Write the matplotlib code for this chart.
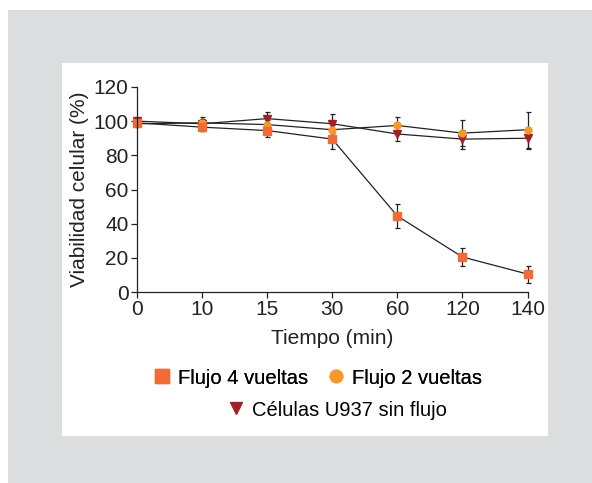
import matplotlib.pyplot as plt
from matplotlib.lines import Line2D
from matplotlib.patches import Rectangle

plt.rcParams['font.family'] = ['Liberation Sans', 'DejaVu Sans']

# ── data ──────────────────────────────────────────────────────────────────────
tiempos = ["0", "10", "15", "30", "60", "120", "140"]

flujo4     = [99.0, 96.5, 94.5, 89.5, 44.5, 20.5, 10.5]
flujo4_err = [1.0, 2.5, 3.5, 5.5, 7.0, 5.5, 5.0]

flujo2     = [98.5, 99.0, 98.0, 95.0, 97.5, 93.0, 95.0]
flujo2_err = [1.0, 2.0, 2.5, 3.0, 5.0, 7.5, 10.5]

control     = [100.0, 98.5, 101.5, 98.5, 92.5, 89.5, 90.0]
control_err = [1.0, 4.0, 4.0, 5.5, 4.0, 5.5, 6.0]

C_SQ  = "#f26a36"
C_CI  = "#f7982a"
C_TRI = "#a3202a"
GREY  = "#dcdddf"
INK   = "#222222"

fig = plt.figure(figsize=(5.92, 4.83), dpi=100, facecolor="white")
fig.patches.append(Rectangle((8 / 592, 0), 1, 1 - 10 / 483, transform=fig.transFigure,
                             facecolor=GREY, edgecolor="none", zorder=-2))
fig.patches.append(Rectangle((62 / 592, 1 - 436 / 483), (548 - 62) / 592, (436 - 63) / 483,
                             transform=fig.transFigure, facecolor="white",
                             edgecolor="none", zorder=-1))

ax = fig.add_axes([137 / 592, 1 - 292 / 483, (527.5 - 137) / 592, (292 - 87) / 483])
ax.set_facecolor("none")
x = list(range(len(tiempos)))

kw = dict(color=INK, lw=0.9, ecolor=INK, elinewidth=0.9, capsize=1.8,
          capthick=0.9, clip_on=False)
e3 = ax.errorbar(x, control, yerr=control_err, marker="v", ms=5.5, mfc=C_TRI, mec=C_TRI, **kw)
e2 = ax.errorbar(x, flujo2, yerr=flujo2_err, marker="o", ms=5, mfc=C_CI, mec=C_CI, **kw)
e1 = ax.errorbar(x, flujo4, yerr=flujo4_err, marker="s", ms=6, mfc=C_SQ, mec=C_SQ, **kw)
for e in (e1, e2, e3):
    for art in e.lines[1] + e.lines[2]:
        art.set_clip_on(False)

ax.set_xlim(0, 6)
ax.set_ylim(0, 120)
ax.set_xticks(x)
ax.set_xticklabels(tiempos)
ax.set_yticks(range(0, 121, 20))
ax.tick_params(labelsize=15, length=4, width=0.9, colors=INK, pad=2)
for s in ("top", "right"):
    ax.spines[s].set_visible(False)
for s in ("left", "bottom"):
    ax.spines[s].set_linewidth(0.9)
    ax.spines[s].set_color(INK)

ax.set_xlabel("Tiempo (min)", fontsize=15, color=INK, labelpad=7)
ax.set_ylabel("Viabilidad celular (%)", fontsize=15, color=INK, labelpad=3)

# ── legend ────────────────────────────────────────────────────────────────────
h1 = Line2D([], [], ls="none", marker="s", ms=10, mfc=C_SQ, mec=C_SQ)
h2 = Line2D([], [], ls="none", marker="o", ms=9, mfc=C_CI, mec=C_CI)
h3 = Line2D([], [], ls="none", marker="v", ms=8, mfc=C_TRI, mec=C_TRI)
lg1 = fig.legend([h1, h2], ["Flujo 4 vueltas", "Flujo 2 vueltas"], ncol=2, frameon=False,
                 loc="center", bbox_to_anchor=(317 / 592, 1 - 378 / 483), fontsize=14.5,
                 handletextpad=0.3, columnspacing=0.9, handlelength=1.0)
fig.legend([h3], ["Células U937 sin flujo"], frameon=False, loc="center",
           bbox_to_anchor=(336 / 592, 1 - 410 / 483), fontsize=14.5,
           handletextpad=0.3, handlelength=1.0)
fig.add_artist(lg1)

fig.savefig("out.png", dpi=100, facecolor="white")
